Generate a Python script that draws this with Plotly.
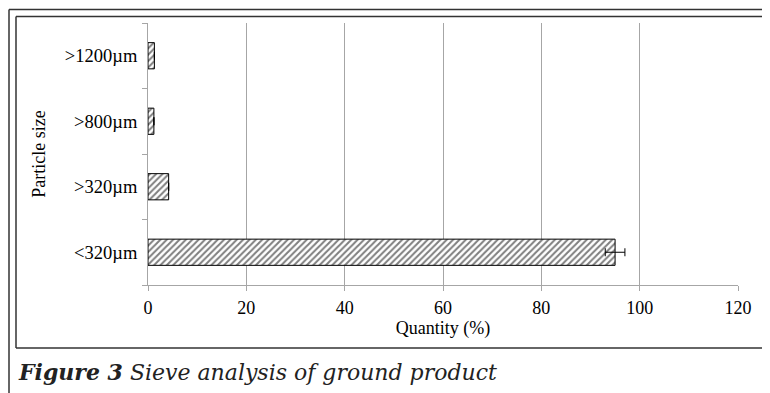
import plotly.graph_objects as go

categories = ["<320µm", ">320µm", ">800µm", ">1200µm"]
quantity = [95.0, 4.2, 1.2, 1.3]
errors = [2.0, 0, 0, 0]
x_ticks = [0, 20, 40, 60, 80, 100, 120]

# page has an 8px body margin; figure origin sits at page (8, 8)
OFF = 8
W, H = 770 - OFF, 393 - OFF
L, R, T, B = 148 - OFF, 738 - OFF, 23 - OFF, 285 - OFF

def px(x):
    return (x - OFF - L) / (R - L)

def py(y):
    return (B - (y - OFF)) / (B - T)

fig = go.Figure(go.Bar(
    y=categories, x=quantity, orientation="h",
    marker=dict(color="white", line=dict(color="black", width=1),
                pattern=dict(shape="/", fgcolor="black", bgcolor="white", size=4.5, solidity=0.45)),
    error_x=dict(type="data", array=errors, visible=True, color="black", thickness=1, width=4),
))

serif = "Liberation Serif"
grey = "#a6a6a6"

fig.update_layout(
    width=W, height=H,
    margin=dict(l=L, r=W - R, t=T, b=H - B, pad=0),
    paper_bgcolor="white", plot_bgcolor="white",
    showlegend=False,
    bargap=0.6,
    font=dict(family=serif, size=18, color="black"),
    xaxis=dict(range=[0, 120], tickvals=x_ticks, showgrid=True, gridcolor=grey, gridwidth=1,
               showline=True, linecolor=grey, linewidth=1, ticks="outside", ticklen=5,
               tickcolor=grey, zeroline=False, tickfont=dict(family=serif, size=18),
               ticklabelstandoff=1,
               title=dict(text="Quantity (%)", font=dict(family=serif, size=18), standoff=4)),
    yaxis=dict(type="category", categoryorder="array", categoryarray=categories,
               range=[-0.5, 3.5], showgrid=False, showline=True, linecolor=grey, linewidth=1,
               ticks="outside", ticklen=5, tickcolor=grey, tickson="boundaries",
               tickfont=dict(family=serif, size=18.5), ticklabelstandoff=6,
               title=dict(text="Particle size", font=dict(family=serif, size=18), standoff=14)),
)

line = dict(color="#333333", width=1.5)
shapes = [
    dict(type="line", xref="paper", yref="paper", x0=px(9), x1=px(775), y0=py(9.5), y1=py(9.5), line=line),
    dict(type="line", xref="paper", yref="paper", x0=px(9), x1=px(9), y0=py(9.5), y1=py(400), line=line),
    dict(type="line", xref="paper", yref="paper", x0=px(16), x1=px(775), y0=py(16.5), y1=py(16.5), line=line),
    dict(type="line", xref="paper", yref="paper", x0=px(16), x1=px(16), y0=py(16.5), y1=py(348), line=line),
    dict(type="line", xref="paper", yref="paper", x0=px(16), x1=px(775), y0=py(348), y1=py(348), line=line),
]
fig.update_layout(shapes=shapes)

fig.add_annotation(
    xref="paper", yref="paper", x=px(16), y=py(372), xanchor="left", yanchor="middle",
    text="<b><i>Figure 3</i></b><i> Sieve analysis of ground product</i>",
    showarrow=False, font=dict(family="DejaVu Serif", size=22, color="#222222"),
)

fig.write_html("out.html")
